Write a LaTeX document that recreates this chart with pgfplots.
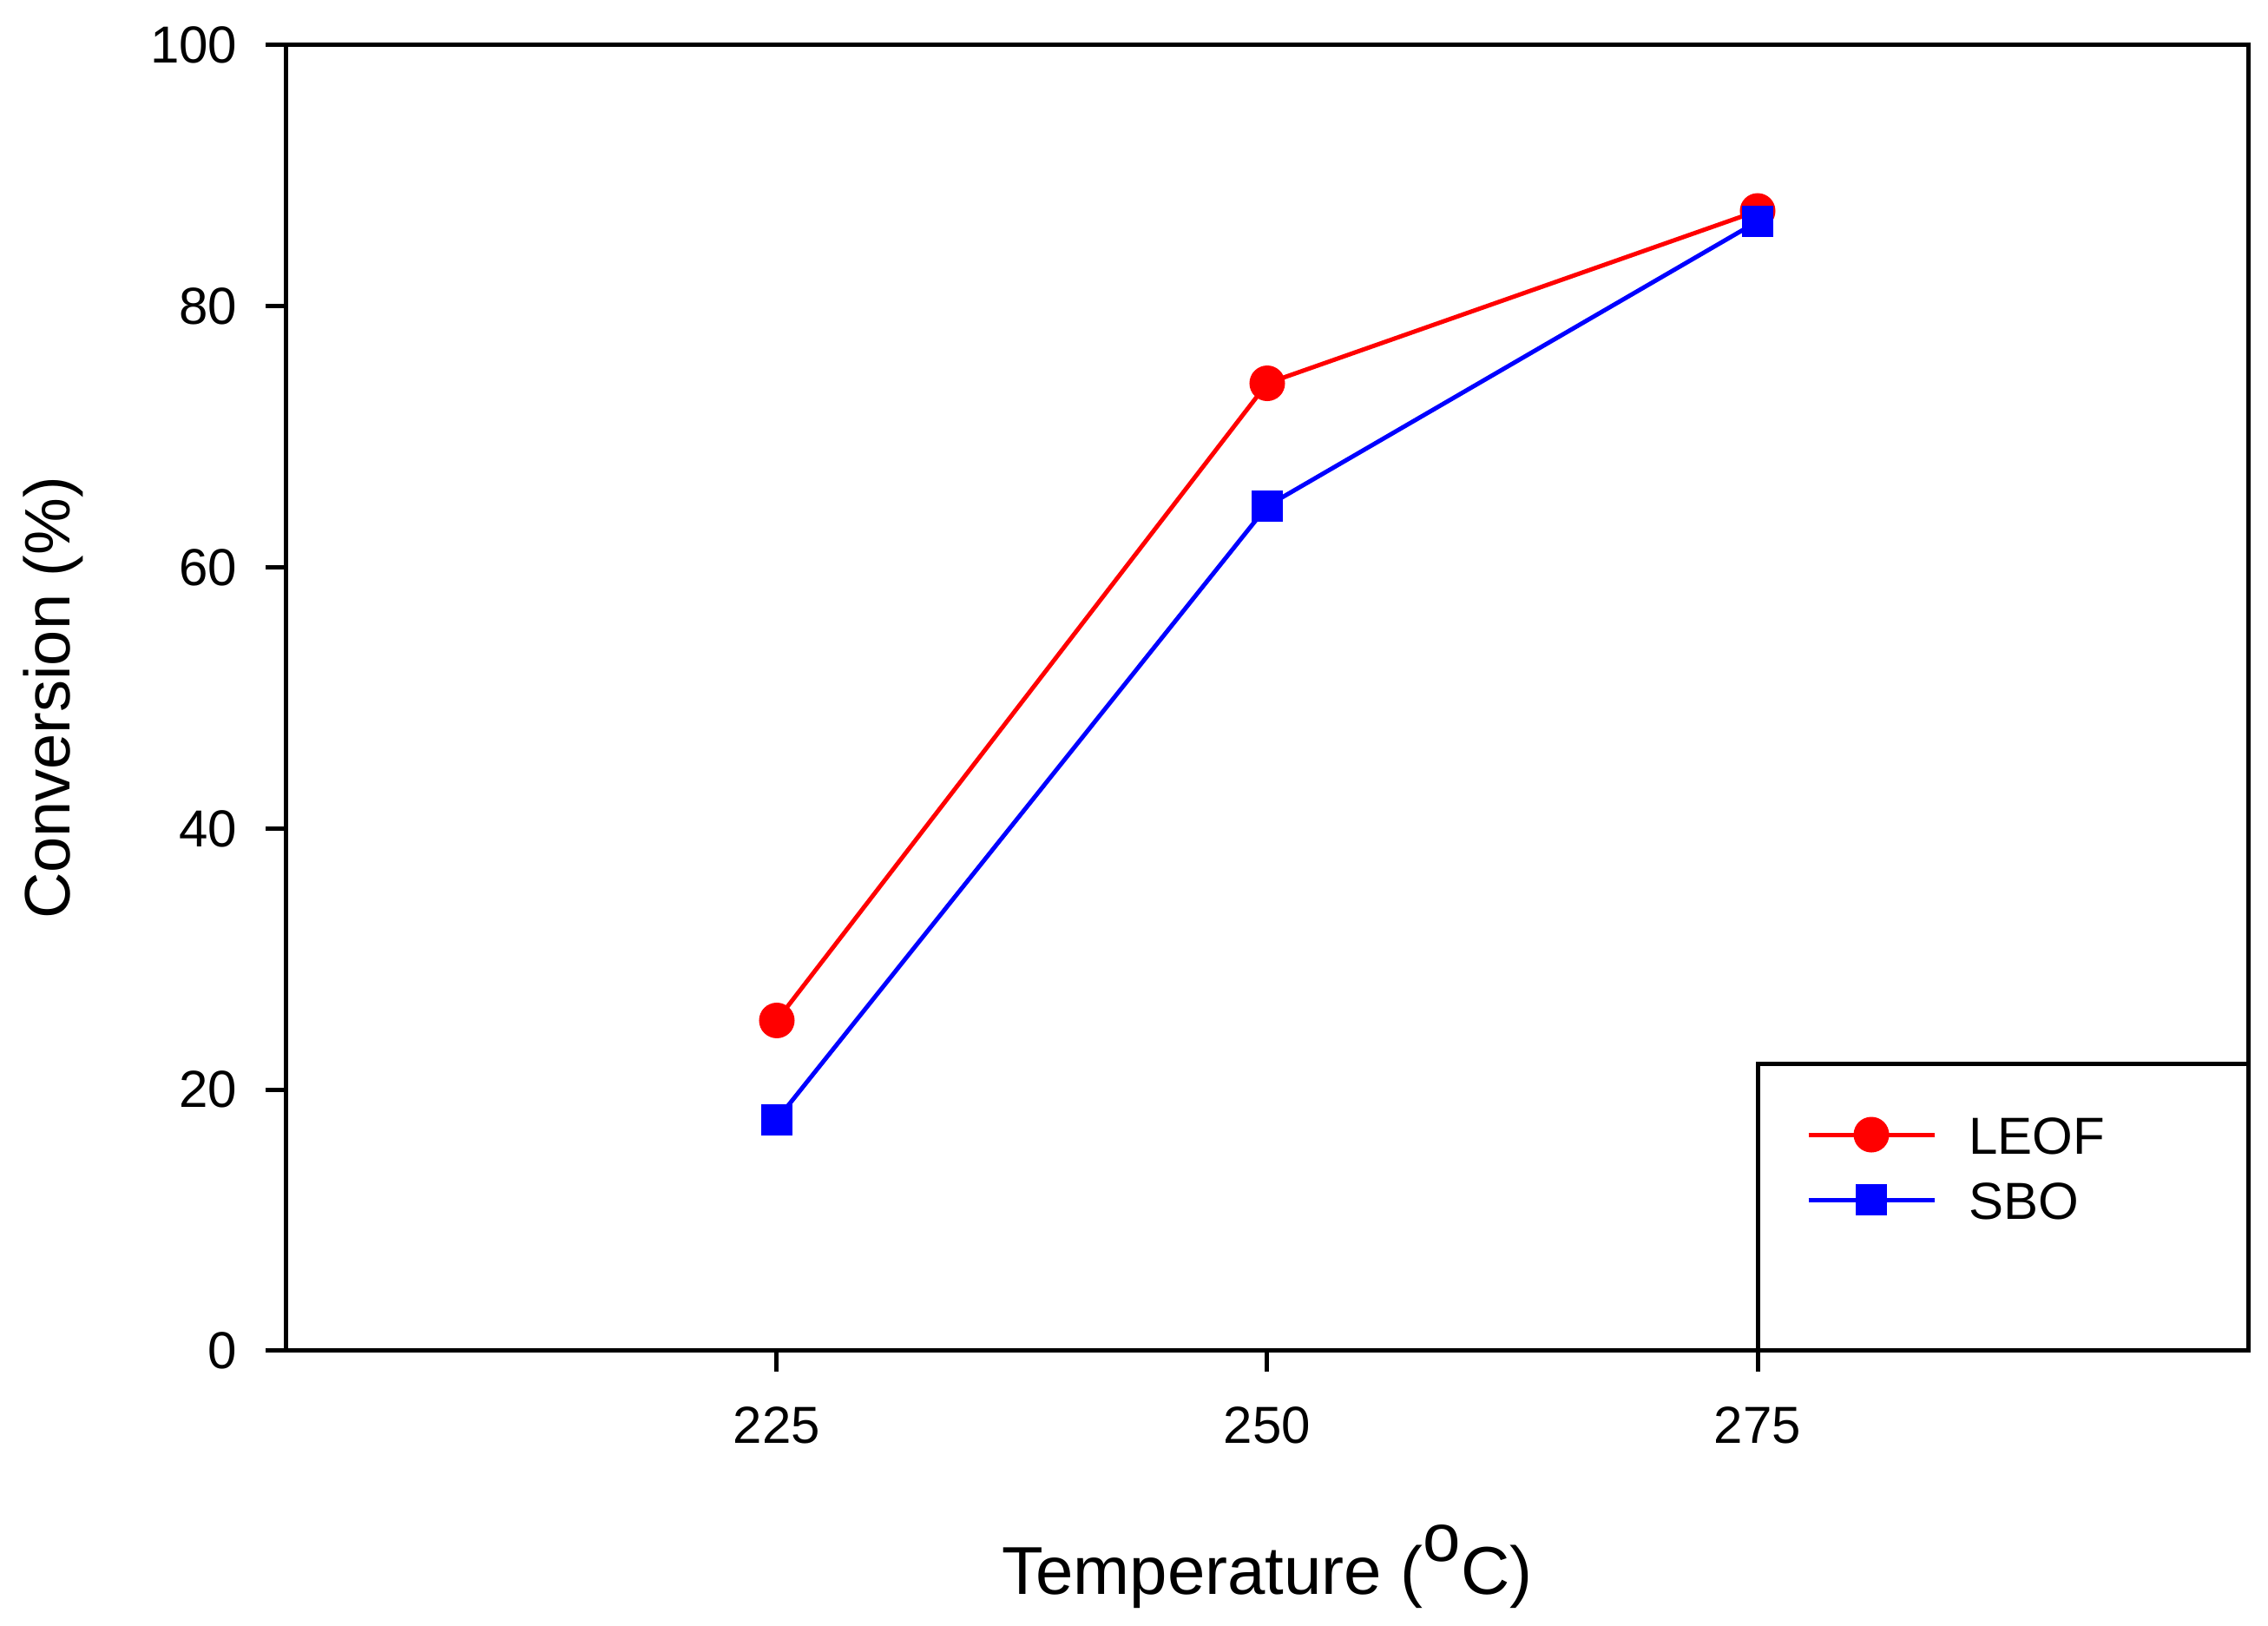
\documentclass[border=0pt]{standalone}
\usepackage{fontspec}
\setmainfont{Liberation Sans}
\usepackage{pgfplots}
\pgfplotsset{compat=1.18}
\pgfplotstableread{
x y
225 25.3
250 74.1
275 87.3
}\leof
\pgfplotstableread{
x y
225 17.7
250 64.7
275 86.5
}\sbo
\begin{document}
\begin{tikzpicture}
\useasboundingbox (-66pt,-63.4pt) rectangle (456.6pt,311.2pt);
\begin{axis}[
  at={(0,0)}, anchor=south west,
  scale only axis, width=452pt, height=300.8pt,
  xmin=200, xmax=300, ymin=0, ymax=100,
  xtick={225,250,275}, ytick={0,20,40,60,80,100},
  tick pos=left, tick align=outside, major tick length=4.8pt,
  axis line style={line width=1pt},
  every tick/.style={black, line width=1pt},
  ticklabel style={font=\fontsize{12}{14}\selectfont},
  yticklabel style={xshift=-3pt},
  xticklabel style={yshift=-4.5pt},
  /pgf/number format/assume math mode=true,
  xlabel={Temperature (\raisebox{7.6pt}{o}C)},
  xlabel style={font=\fontsize{15.6}{18}\selectfont, at={(axis description cs:0.5,-0.1868)}, anchor=base},
  ylabel={Conversion (\%)},
  ylabel style={font=\fontsize{14.8}{17}\selectfont, at={(axis description cs:-0.1106,0.5)}, anchor=base},
  legend cell align=left,
  legend image code/.code={\draw[mark repeat=2,mark phase=2,#1] plot coordinates {(0pt,0pt)(14.5pt,0pt)(29pt,0pt)};},
  legend style={draw=none, fill=none, inner sep=0pt, outer sep=0pt,
    at={(axis description cs:0.7748,0.1805)}, anchor=north west,
    font=\fontsize{12}{14}\selectfont,
    nodes={inner sep=0pt, text height=9pt, text depth=0pt},
    row sep=6pt,
    /tikz/every odd column/.append style={column sep=7.4pt}},
]
\addplot[red, line width=1pt, mark=*, mark size=3.6pt, mark options={solid, fill=red, draw=red}] table[x=x,y=y]{\leof};
\addlegendentry{LEOF}
\addplot[blue, line width=1pt, mark=square*, mark size=3.1pt, mark options={solid, fill=blue, draw=blue}] table[x=x,y=y]{\sbo};
\addlegendentry{SBO}
\draw[line width=1pt] (axis cs:275,0) rectangle (axis cs:300,22);
\end{axis}
\end{tikzpicture}
\end{document}
